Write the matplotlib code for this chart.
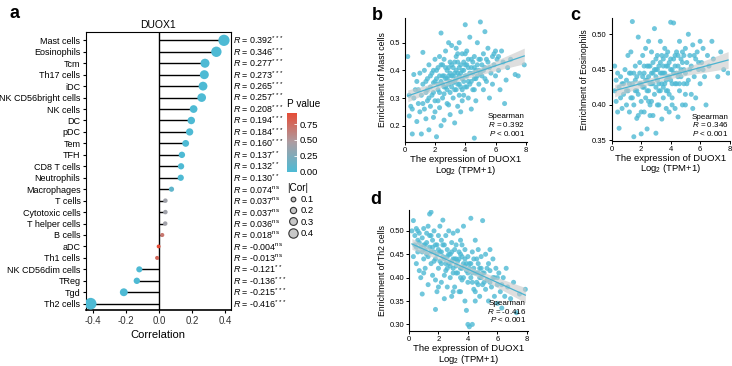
"""Immune infiltration vs DUOX1: lollipop of correlations plus three scatter panels."""

import numpy as np
import matplotlib
matplotlib.use("Agg")
import matplotlib.pyplot as plt
from matplotlib.colors import LinearSegmentedColormap, Normalize
from matplotlib.cm import ScalarMappable
from matplotlib.lines import Line2D

plt.rcParams["font.family"] = ["Liberation Sans", "DejaVu Sans"]
plt.rcParams["mathtext.fontset"] = "custom"
plt.rcParams["mathtext.rm"] = "Liberation Sans"
plt.rcParams["mathtext.it"] = "Liberation Sans:italic"
plt.rcParams["mathtext.bf"] = "Liberation Sans:bold"

# ---- panel a data ----
cells = ["Mast cells", "Eosinophils", "Tcm", "Th17 cells", "iDC", "NK CD56bright cells",
         "NK cells", "DC", "pDC", "Tem", "TFH", "CD8 T cells", "Neutrophils", "Macrophages",
         "T cells", "Cytotoxic cells", "T helper cells", "B cells", "aDC", "Th1 cells",
         "NK CD56dim cells", "TReg", "Tgd", "Th2 cells"]
cor = [0.392, 0.346, 0.277, 0.273, 0.265, 0.257, 0.208, 0.194, 0.184, 0.160, 0.137, 0.132,
       0.130, 0.074, 0.037, 0.037, 0.036, 0.018, -0.004, -0.013, -0.121, -0.136, -0.215, -0.416]
signif = ["***", "***", "***", "***", "***", "***", "***", "***", "***", "***", "**", "**",
          "**", "ns", "ns", "ns", "ns", "ns", "ns", "ns", "**", "***", "***", "***"]
pvals = [0.0, 0.0, 0.0, 0.0, 0.0, 0.0, 0.0, 0.0, 0.0, 0.0002, 0.002, 0.003, 0.003, 0.09,
         0.40, 0.40, 0.41, 0.68, 0.93, 0.77, 0.006, 0.002, 0.0, 0.0]
size_legend = [0.1, 0.2, 0.3, 0.4]
p_ticks = [0.0, 0.25, 0.50, 0.75]

# ---- scatter data ----
mast_pts = [
    (0.2, 0.45), (0.3, 0.235), (0.3, 0.31), (0.4, 0.27), (0.5, 0.17), (0.5, 0.26), (0.6, 0.385),
    (0.6, 0.30), (0.7, 0.33), (0.8, 0.215), (0.8, 0.36), (0.9, 0.28), (1.0, 0.25), (1.0, 0.39),
    (1.1, 0.17), (1.1, 0.31), (1.2, 0.465), (1.2, 0.35), (1.3, 0.26), (1.3, 0.40), (1.4, 0.225),
    (1.4, 0.32), (1.5, 0.29), (1.5, 0.37), (1.6, 0.185), (1.6, 0.42), (1.7, 0.34), (1.7, 0.27),
    (1.8, 0.31), (1.8, 0.39), (1.9, 0.23), (1.9, 0.355), (2.0, 0.44), (2.0, 0.29), (1.6, 0.30),
    (1.9, 0.40), (2.1, 0.16), (2.1, 0.37), (2.2, 0.33), (2.2, 0.41), (2.3, 0.265), (2.3, 0.45),
    (2.4, 0.535), (2.4, 0.36), (2.5, 0.30), (2.5, 0.42), (2.6, 0.22), (2.6, 0.38), (2.7, 0.34),
    (2.7, 0.47), (2.8, 0.28), (2.8, 0.40), (2.9, 0.50), (2.9, 0.35), (3.0, 0.24), (3.0, 0.43),
    (2.2, 0.29), (2.5, 0.35), (2.8, 0.37), (3.0, 0.32), (2.4, 0.20), (2.7, 0.41), (2.6, 0.315),
    (2.9, 0.275), (3.1, 0.38), (3.1, 0.49), (3.2, 0.30), (3.2, 0.41), (3.3, 0.21), (3.3, 0.36),
    (3.4, 0.45), (3.4, 0.33), (3.5, 0.27), (3.5, 0.39), (3.6, 0.50), (3.6, 0.35), (3.7, 0.42),
    (3.7, 0.25), (3.8, 0.37), (3.8, 0.46), (3.9, 0.31), (3.9, 0.40), (4.0, 0.565), (4.0, 0.34),
    (3.2, 0.355), (3.5, 0.43), (3.8, 0.29), (4.0, 0.42), (3.3, 0.39), (3.6, 0.31), (3.9, 0.36),
    (3.4, 0.48), (4.1, 0.38), (4.1, 0.47), (4.2, 0.30), (4.2, 0.41), (4.3, 0.35), (4.3, 0.52),
    (4.4, 0.44), (4.4, 0.26), (4.5, 0.39), (4.5, 0.33), (4.6, 0.155), (4.6, 0.45), (4.7, 0.37),
    (4.7, 0.29), (4.8, 0.42), (4.8, 0.50), (4.9, 0.35), (4.9, 0.40), (5.0, 0.575), (5.0, 0.44),
    (4.2, 0.36), (4.6, 0.41), (5.1, 0.38), (5.2, 0.46), (5.2, 0.33), (5.3, 0.54), (5.3, 0.41),
    (5.4, 0.36), (5.5, 0.48), (5.5, 0.43), (5.6, 0.30), (5.7, 0.39), (5.8, 0.45), (5.8, 0.35),
    (5.9, 0.42), (6.0, 0.47), (6.0, 0.38), (6.1, 0.44), (6.2, 0.40), (6.3, 0.33), (6.4, 0.47),
    (6.5, 0.43), (6.6, 0.28), (6.7, 0.365), (6.8, 0.41), (7.0, 0.44), (7.3, 0.385), (7.5, 0.38),
    (7.9, 0.42),
    (1.5, 0.33), (1.7, 0.38), (1.9, 0.32), (2.0, 0.36), (2.1, 0.40), (2.2, 0.35), (2.3, 0.38),
    (2.3, 0.32), (2.4, 0.42), (2.5, 0.38), (2.6, 0.34), (2.6, 0.44), (2.7, 0.37), (2.8, 0.33),
    (2.9, 0.41), (2.9, 0.38), (3.0, 0.36), (3.0, 0.39), (3.1, 0.34), (3.1, 0.42), (3.2, 0.38),
    (3.3, 0.33), (3.3, 0.43), (3.4, 0.37), (3.4, 0.40), (3.5, 0.35), (3.5, 0.46), (3.6, 0.38),
    (3.6, 0.41), (3.7, 0.34), (3.7, 0.39), (3.8, 0.40), (3.8, 0.33), (3.9, 0.43), (4.0, 0.38),
    (4.0, 0.46), (4.1, 0.34), (4.1, 0.42), (4.2, 0.44), (4.3, 0.39), (4.4, 0.36), (4.4, 0.41),
    (4.5, 0.43), (4.6, 0.37), (4.7, 0.40), (4.8, 0.38), (4.9, 0.44), (5.0, 0.39), (5.1, 0.42),
    (5.2, 0.40), (5.4, 0.44), (5.6, 0.41), (5.9, 0.46), (1.2, 0.28), (1.4, 0.36), (0.9, 0.33),
    (6.2, 0.45), (5.3, 0.37), (4.6, 0.33), (2.0, 0.25)]

eos_pts = [
    (0.2, 0.455), (0.2, 0.42), (0.3, 0.435), (0.3, 0.405), (0.4, 0.39), (0.4, 0.445), (0.5, 0.367),
    (0.5, 0.425), (0.6, 0.41), (0.6, 0.44), (0.7, 0.395), (0.8, 0.43), (0.8, 0.415), (0.9, 0.45),
    (1.0, 0.40), (1.0, 0.435), (1.1, 0.42), (1.1, 0.47), (1.2, 0.39), (1.2, 0.445), (1.3, 0.41),
    (1.3, 0.475), (1.4, 0.518), (1.4, 0.43), (1.5, 0.355), (1.5, 0.40), (1.6, 0.455), (1.6, 0.42),
    (1.7, 0.381), (1.7, 0.44), (1.8, 0.496), (1.8, 0.415), (1.9, 0.43), (1.9, 0.46), (2.0, 0.359),
    (2.0, 0.405), (1.5, 0.445), (1.8, 0.385), (2.1, 0.425), (2.1, 0.47), (2.2, 0.39), (2.2, 0.445),
    (2.3, 0.41), (2.3, 0.48), (2.4, 0.366), (2.4, 0.435), (2.5, 0.49), (2.5, 0.42), (2.6, 0.455),
    (2.6, 0.40), (2.7, 0.43), (2.7, 0.475), (2.8, 0.385), (2.8, 0.445), (2.9, 0.508), (2.9, 0.415),
    (3.0, 0.36), (3.0, 0.45), (2.2, 0.425), (2.5, 0.44), (2.8, 0.46), (3.0, 0.425), (2.4, 0.455),
    (2.7, 0.405), (2.6, 0.385), (3.1, 0.435), (3.1, 0.47), (3.2, 0.40), (3.2, 0.455), (3.3, 0.42),
    (3.3, 0.49), (3.4, 0.38), (3.4, 0.445), (3.5, 0.465), (3.5, 0.41), (3.6, 0.43), (3.6, 0.48),
    (3.7, 0.395), (3.7, 0.455), (3.8, 0.44), (3.8, 0.475), (3.9, 0.415), (3.9, 0.46), (4.0, 0.517),
    (4.0, 0.435), (3.2, 0.43), (3.5, 0.445), (3.8, 0.42), (3.4, 0.47), (3.7, 0.435), (3.9, 0.39),
    (4.1, 0.45), (4.1, 0.41), (4.2, 0.516), (4.2, 0.465), (4.3, 0.43), (4.3, 0.395), (4.4, 0.475),
    (4.4, 0.445), (4.5, 0.383), (4.5, 0.455), (4.6, 0.42), (4.6, 0.49), (4.7, 0.44), (4.7, 0.465),
    (4.8, 0.40), (4.8, 0.475), (4.9, 0.45), (4.9, 0.43), (5.0, 0.48), (5.0, 0.415), (4.3, 0.455),
    (4.6, 0.445), (5.1, 0.46), (5.2, 0.50), (5.2, 0.435), (5.3, 0.47), (5.4, 0.415), (5.4, 0.455),
    (5.5, 0.485), (5.6, 0.44), (5.7, 0.465), (5.7, 0.41), (5.8, 0.475), (5.9, 0.45), (6.0, 0.49),
    (6.0, 0.43), (5.5, 0.395), (6.1, 0.46), (6.2, 0.48), (6.3, 0.44), (6.4, 0.40), (6.5, 0.47),
    (6.6, 0.455), (6.8, 0.49), (6.9, 0.465), (7.2, 0.44), (7.4, 0.475), (7.6, 0.45), (7.9, 0.445),
    (1.0, 0.42), (1.2, 0.43), (1.4, 0.41), (1.6, 0.435), (1.7, 0.42), (1.9, 0.445), (2.0, 0.43),
    (2.1, 0.44), (2.2, 0.455), (2.3, 0.435), (2.4, 0.42), (2.5, 0.455), (2.6, 0.43), (2.7, 0.445),
    (2.8, 0.43), (2.9, 0.45), (3.0, 0.44), (3.0, 0.465), (3.1, 0.45), (3.2, 0.42), (3.3, 0.445),
    (3.3, 0.46), (3.4, 0.43), (3.5, 0.455), (3.5, 0.425), (3.6, 0.445), (3.7, 0.47), (3.7, 0.42),
    (3.8, 0.455), (3.9, 0.44), (4.0, 0.45), (4.0, 0.465), (4.1, 0.43), (4.2, 0.445), (4.3, 0.47),
    (4.4, 0.43), (4.5, 0.44), (4.5, 0.47), (4.6, 0.43), (4.7, 0.45), (4.8, 0.46), (4.9, 0.47),
    (5.0, 0.445), (5.1, 0.43), (5.3, 0.45), (5.6, 0.47), (5.9, 0.46), (6.2, 0.45), (0.7, 0.43),
    (1.3, 0.445), (2.0, 0.39), (3.1, 0.40), (4.1, 0.40), (5.0, 0.40), (2.5, 0.405)]

th2_pts = [
    (0.2, 0.50), (0.3, 0.522), (0.3, 0.445), (0.4, 0.49), (0.4, 0.47), (0.5, 0.505), (0.5, 0.43),
    (0.6, 0.48), (0.6, 0.455), (0.7, 0.415), (0.7, 0.495), (0.8, 0.465), (0.8, 0.40), (0.9, 0.365),
    (0.9, 0.485), (1.0, 0.505), (1.0, 0.44), (0.6, 0.50), (1.1, 0.47), (1.1, 0.42), (1.2, 0.495),
    (1.2, 0.45), (1.3, 0.385), (1.3, 0.51), (1.4, 0.536), (1.4, 0.465), (1.5, 0.54), (1.5, 0.43),
    (1.6, 0.48), (1.6, 0.405), (1.7, 0.455), (1.7, 0.50), (1.8, 0.332), (1.8, 0.44), (1.9, 0.47),
    (1.9, 0.37), (2.0, 0.49), (2.0, 0.42), (1.5, 0.49), (1.8, 0.395), (2.1, 0.455), (2.1, 0.51),
    (2.2, 0.43), (2.2, 0.39), (2.3, 0.523), (2.3, 0.47), (2.4, 0.44), (2.4, 0.355), (2.5, 0.49),
    (2.5, 0.415), (2.6, 0.46), (2.6, 0.38), (2.7, 0.50), (2.7, 0.43), (2.8, 0.45), (2.8, 0.40),
    (2.9, 0.475), (2.9, 0.36), (3.0, 0.495), (3.0, 0.42), (2.2, 0.48), (2.6, 0.445), (2.9, 0.435),
    (2.4, 0.405), (3.1, 0.44), (3.1, 0.38), (3.2, 0.47), (3.2, 0.41), (3.3, 0.50), (3.3, 0.435),
    (3.4, 0.37), (3.4, 0.455), (3.5, 0.42), (3.5, 0.48), (3.6, 0.395), (3.6, 0.445), (3.7, 0.51),
    (3.7, 0.43), (3.8, 0.46), (3.8, 0.35), (3.9, 0.33), (3.9, 0.415), (4.0, 0.30), (4.0, 0.445),
    (3.2, 0.44), (3.5, 0.40), (3.8, 0.425), (3.6, 0.47), (4.1, 0.295), (4.1, 0.43), (4.2, 0.527),
    (4.2, 0.40), (4.3, 0.30), (4.3, 0.455), (4.4, 0.375), (4.4, 0.42), (4.5, 0.48), (4.5, 0.35),
    (4.6, 0.41), (4.6, 0.44), (4.7, 0.385), (4.7, 0.46), (4.8, 0.42), (4.8, 0.36), (4.9, 0.40),
    (4.9, 0.445), (5.0, 0.522), (5.0, 0.385), (4.3, 0.41), (4.7, 0.43), (5.1, 0.41), (5.2, 0.375),
    (5.2, 0.45), (5.3, 0.395), (5.4, 0.43), (5.4, 0.35), (5.5, 0.415), (5.6, 0.38), (5.7, 0.44),
    (5.8, 0.36), (5.8, 0.40), (5.9, 0.42), (6.0, 0.385), (6.0, 0.345), (5.5, 0.46), (6.1, 0.41),
    (6.2, 0.37), (6.3, 0.335), (6.4, 0.40), (6.5, 0.36), (6.6, 0.42), (6.7, 0.38), (6.9, 0.355),
    (7.1, 0.39), (7.3, 0.325), (7.5, 0.365), (7.9, 0.375),
    (0.5, 0.465), (0.7, 0.475), (0.9, 0.455), (1.0, 0.47), (1.1, 0.46), (1.2, 0.475), (1.3, 0.445),
    (1.4, 0.49), (1.5, 0.455), (1.6, 0.465), (1.7, 0.435), (1.8, 0.47), (1.9, 0.45), (2.0, 0.46),
    (2.1, 0.435), (2.2, 0.455), (2.3, 0.445), (2.4, 0.47), (2.5, 0.43), (2.6, 0.42), (2.7, 0.45),
    (2.8, 0.425), (2.9, 0.455), (3.0, 0.44), (3.0, 0.41), (3.1, 0.46), (3.2, 0.425), (3.3, 0.41),
    (3.4, 0.44), (3.5, 0.45), (3.6, 0.42), (3.7, 0.40), (3.8, 0.44), (3.9, 0.43), (4.0, 0.41),
    (4.0, 0.39), (4.1, 0.42), (4.2, 0.43), (4.3, 0.39), (4.4, 0.44), (4.5, 0.41), (4.6, 0.39),
    (4.7, 0.41), (4.8, 0.40), (4.9, 0.42), (5.0, 0.41), (5.1, 0.39), (5.3, 0.42), (5.5, 0.39),
    (5.7, 0.40), (6.0, 0.40), (6.3, 0.385), (1.0, 0.41), (2.0, 0.38), (3.0, 0.37), (3.5, 0.37),
    (4.5, 0.37)]

DOT = "#4DB9D4"
cmap = LinearSegmentedColormap.from_list("pv", ["#4EBAD4", "#AC9DA2", "#E64B35"])


def dot_size(r):
    # marker diameter in points for a given |Cor|
    d_px = 3.8 + 19 * abs(r)
    return d_px / 1.389


fig = plt.figure(figsize=(7.32, 3.66), dpi=100)

# --- a: lollipop ---
ax = fig.add_axes([0.1175, 0.153, 0.1977, 0.7587])
ypos = np.arange(len(cells))
norm = Normalize(vmin=min(pvals), vmax=max(pvals))
ax.hlines(ypos, 0, cor, color="black", linewidth=1.0, zorder=1)
ax.axvline(0, color="black", linewidth=1.0, zorder=1)
ax.scatter(cor, ypos, s=[dot_size(r) ** 2 for r in cor], c=pvals, cmap=cmap, norm=norm,
           edgecolors="none", zorder=3)
ax.set_ylim(len(cells) - 0.45, -0.7)
ax.set_xlim(-0.444, 0.433)
ax.set_yticks(ypos)
ax.set_yticklabels(cells, fontsize=6.5)
ax.set_xticks([-0.4, -0.2, 0.0, 0.2, 0.4])
ax.set_xticklabels(["-0.4", "-0.2", "0.0", "0.2", "0.4"], fontsize=7, color="#333333")
ax.tick_params(length=2.5, width=0.8, pad=1.5)
ax.set_xlabel("Correlation", fontsize=8, labelpad=3)
ax.set_title("DUOX1", fontsize=7.5, pad=3)
for sp in ax.spines.values():
    sp.set_linewidth(0.8)
ax.spines["bottom"].set_linewidth(1.2)
for y, r, s in zip(ypos, cor, signif):
    sup = r"$^{\rm ns}$" if s == "ns" else "$^{" + s + "}$"
    ax.text(1.015, y, r"$\it{R}$ = " + f"{r:.3f}" + sup, transform=ax.get_yaxis_transform(),
            fontsize=6.4, va="center", ha="left", clip_on=False)

# colorbar for P value
cax = fig.add_axes([0.3925, 0.531, 0.0128, 0.161])
cb = fig.colorbar(ScalarMappable(norm=norm, cmap=cmap), cax=cax, ticks=p_ticks)
cb.ax.set_yticklabels([f"{t:.2f}" for t in p_ticks], fontsize=6.8)
cb.ax.tick_params(length=2.5, width=0.6, color="white", pad=2, direction="in")
cb.outline.set_visible(False)
fig.text(0.3925, 1 - 104 / 366, "P value", fontsize=7.2, va="center", ha="left")

# size legend
handles = [Line2D([], [], marker="o", linestyle="none", markersize=dot_size(v) * 0.82,
                  markerfacecolor="#C8C8C8", markeredgecolor="#333333", markeredgewidth=0.8,
                  label=f"{v:.1f}") for v in size_legend]
leg = fig.legend(handles=handles, title="|Cor|", loc="upper left", frameon=False,
                 bbox_to_anchor=(0.383, 1 - 176 / 366), fontsize=6.8, title_fontsize=7.2,
                 handletextpad=0.2, labelspacing=0.25, borderpad=0.2, handlelength=1.2)
leg._legend_box.align = "left"


# --- b, c, d: scatter panels ---
def scatter_panel(rect, pts, ylabel, ylim, yticks, yfmt, rtxt, ty):
    a = fig.add_axes(rect)
    xy = np.array(pts)
    x, y = xy[:, 0], xy[:, 1]
    a.scatter(x, y, s=13, color=DOT, alpha=0.8, edgecolors="none", zorder=2)
    k, b0 = np.polyfit(x, y, 1)
    xs = np.linspace(x.min(), x.max(), 50)
    fit = k * xs + b0
    resid = y - (k * x + b0)
    s_err = np.sqrt(np.sum(resid ** 2) / (len(x) - 2))
    se = s_err * np.sqrt(1 / len(x) + (xs - x.mean()) ** 2 / np.sum((x - x.mean()) ** 2))
    a.fill_between(xs, fit - 1.97 * se, fit + 1.97 * se, color="#C8C8C8", alpha=0.6,
                   linewidth=0, zorder=3)
    a.plot(xs, fit, color="#4AB3D0", linewidth=0.9, zorder=4)
    a.set_xlim(0, 8.05)
    a.set_ylim(*ylim)
    a.set_xticks([0, 2, 4, 6, 8])
    a.set_yticks(yticks)
    a.set_yticklabels([yfmt.format(t) for t in yticks])
    a.tick_params(labelsize=5.5, length=2, width=0.7, pad=1.5)
    for side in ("top", "right"):
        a.spines[side].set_visible(False)
    for side in ("left", "bottom"):
        a.spines[side].set_linewidth(0.8)
    a.set_ylabel(ylabel, fontsize=6.2, labelpad=2)
    a.set_xlabel("The expression of DUOX1\nLog$_2$ (TPM+1)", fontsize=6.8, labelpad=1,
                 linespacing=0.95)
    a.text(0.985, ty, "Spearman", transform=a.transAxes, ha="right", fontsize=5.8, zorder=6)
    a.text(0.985, ty - 0.07, r"$\it{R}$ = " + rtxt, transform=a.transAxes, ha="right",
           fontsize=5.8, zorder=6)
    a.text(0.985, ty - 0.14, r"$\it{P}$ < 0.001", transform=a.transAxes, ha="right",
           fontsize=5.8, zorder=6)
    return a


scatter_panel([0.5529, 0.6128, 0.1664, 0.337], mast_pts, "Enrichment of Mast cells",
              (0.142, 0.588), [0.2, 0.3, 0.4, 0.5], "{:.1f}", "0.392", 0.19)
scatter_panel([0.8357, 0.6156, 0.162, 0.3344], eos_pts, "Enrichment of Eosinophils",
              (0.3494, 0.5226), [0.35, 0.40, 0.45, 0.50], "{:.2f}", "0.346", 0.18)
scatter_panel([0.5587, 0.095, 0.162, 0.330], th2_pts, "Enrichment of Th2 cells",
              (0.2854, 0.5437), [0.30, 0.35, 0.40, 0.45, 0.50], "{:.2f}", "-0.416", 0.215)

# panel letters
for lbl, px, py in [("a", 10, 14), ("b", 372, 16), ("c", 570, 16), ("d", 370, 199)]:
    fig.text(px / 732, 1 - py / 366, lbl, fontsize=13, fontweight="bold", va="center")

fig.savefig("out.png", dpi=100)
